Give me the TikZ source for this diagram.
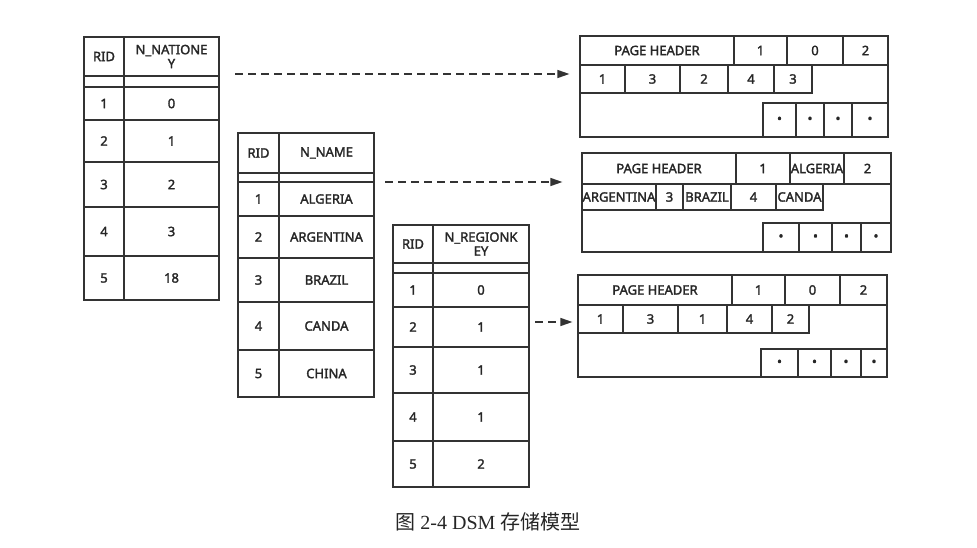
\documentclass[tikz,border=0pt]{standalone}
\usepackage{fontspec}
\setmainfont{Noto Sans}[AutoFakeBold=2]
\newfontfamily\cjk{Noto Sans CJK SC}
\newfontfamily\capfont{Liberation Serif}
\usetikzlibrary{arrows.meta}

\tikzset{
  cell/.style={draw=black!80, line width=1.2pt, inner sep=0pt, align=center,
    text=black!85, font=\fontsize{13}{14}\selectfont\bfseries},
  flow/.style={draw=black!80, line width=1.3pt, dash pattern=on 8pt off 5pt,
    -{Triangle[length=12pt,width=8pt]}}
}
\newcommand\cellbox[6]{%
  \node[cell, minimum width={(#4)-(#2)}, minimum height={(#5)-(#3)}]
    (#1) at ({((#2)+(#4))/2},{((#3)+(#5))/2}) {#6};}

\begin{document}
\begin{tikzpicture}[x=1pt,y=-1pt]
  \useasboundingbox (0,0) rectangle (977,548);
  % N_NATIONKEY column
  \cellbox{ka0}{84}{37}{124}{76}{RID}
  \cellbox{kb0}{124}{37}{219}{76}{N\_NATIONE\\Y}
  \cellbox{kag}{84}{76}{124}{87}{}
  \cellbox{kbg}{124}{76}{219}{87}{}
  \foreach \t/\b/\v [count=\i] in {87/120/0,120/162/1,162/207/2,207/256/3,256/300/18}
    {\cellbox{ka\i}{84}{\t}{124}{\b}{\i}
     \cellbox{kb\i}{124}{\t}{219}{\b}{\v}}
  % N_NAME column
  \cellbox{na0}{238}{133}{279}{173}{RID}
  \cellbox{nb0}{279}{133}{374}{173}{N\_NAME}
  \cellbox{nag}{238}{173}{279}{182}{}
  \cellbox{nbg}{279}{173}{374}{182}{}
  \foreach \t/\b/\v [count=\i] in {182/216/ALGERIA,216/258/ARGENTINA,258/302/BRAZIL,302/350/CANDA,350/397/CHINA}
    {\cellbox{na\i}{238}{\t}{279}{\b}{\i}
     \cellbox{nb\i}{279}{\t}{374}{\b}{\v}}
  % N_REGIONKEY column
  \cellbox{ra0}{393}{225}{433}{263}{RID}
  \cellbox{rb0}{433}{225}{529}{263}{N\_REGIONK\\EY}
  \cellbox{rag}{393}{263}{433}{273}{}
  \cellbox{rbg}{433}{263}{529}{273}{}
  \foreach \t/\b/\v [count=\i] in {273/307/0,307/347/1,347/393/1,393/441/1,441/487/2}
    {\cellbox{ra\i}{393}{\t}{433}{\b}{\i}
     \cellbox{rb\i}{433}{\t}{529}{\b}{\v}}

  % page 1
  \cellbox{pa}{580}{36}{888}{137}{}
  \foreach \l/\r/\v [count=\i] in {580/734/PAGE HEADER,734/787/1,787/843/0,843/888/2}
    {\cellbox{pah\i}{\l}{36}{\r}{65}{\v}}
  \foreach \l/\r/\v [count=\i] in {580/625/1,625/680/3,680/728/2,728/774/4,774/812/3}
    {\cellbox{par\i}{\l}{65}{\r}{93}{\v}}
  \foreach \l/\r [count=\i] in {763/796,796/824,824/852,852/888}
    {\cellbox{pad\i}{\l}{103}{\r}{137}{\textbullet}}
  % page 2
  \cellbox{pb}{582}{153}{891}{252}{}
  \foreach \l/\r/\v [count=\i] in {582/736/PAGE HEADER,736/790/1,790/844/ALGERIA,844/891/2}
    {\cellbox{pbh\i}{\l}{153}{\r}{184}{\v}}
  \foreach \l/\r/\v [count=\i] in {582/656/ARGENTINA,656/683/3,683/731/BRAZIL,731/776/4,776/823/CANDA}
    {\cellbox{pbr\i}{\l}{184}{\r}{210}{\v}}
  \foreach \l/\r [count=\i] in {763/799,799/832,832/861,861/891}
    {\cellbox{pbd\i}{\l}{223}{\r}{252}{\textbullet}}
  % page 3
  \cellbox{pc}{578}{275}{887}{377}{}
  \foreach \l/\r/\v [count=\i] in {578/732/PAGE HEADER,732/785/1,785/840/0,840/887/2}
    {\cellbox{pch\i}{\l}{275}{\r}{305}{\v}}
  \foreach \l/\r/\v [count=\i] in {578/623/1,623/678/3,678/727/1,727/772/4,772/809/2}
    {\cellbox{pcr\i}{\l}{305}{\r}{333}{\v}}
  \foreach \l/\r [count=\i] in {761/798,798/831,831/861,861/887}
    {\cellbox{pcd\i}{\l}{349}{\r}{377}{\textbullet}}

  % arrows
  \coordinate (s1) at (235,74);
  \coordinate (s2) at (385,182);
  \coordinate (s3) at (535,322);
  \draw[flow, shorten >=10pt] (s1) -- (s1 -| pa.west);
  \draw[flow, shorten >=19pt] (s2) -- (s2 -| pb.west);
  \draw[flow, shorten >=5pt] (s3) -- (s3 -| pc.west);

  \node[font=\fontsize{20}{24}\selectfont, text=black!85] (cap) at (488,522)
    {{\cjk 图} {\capfont 2-4 DSM} {\cjk 存储模型}};
\end{tikzpicture}
\end{document}
